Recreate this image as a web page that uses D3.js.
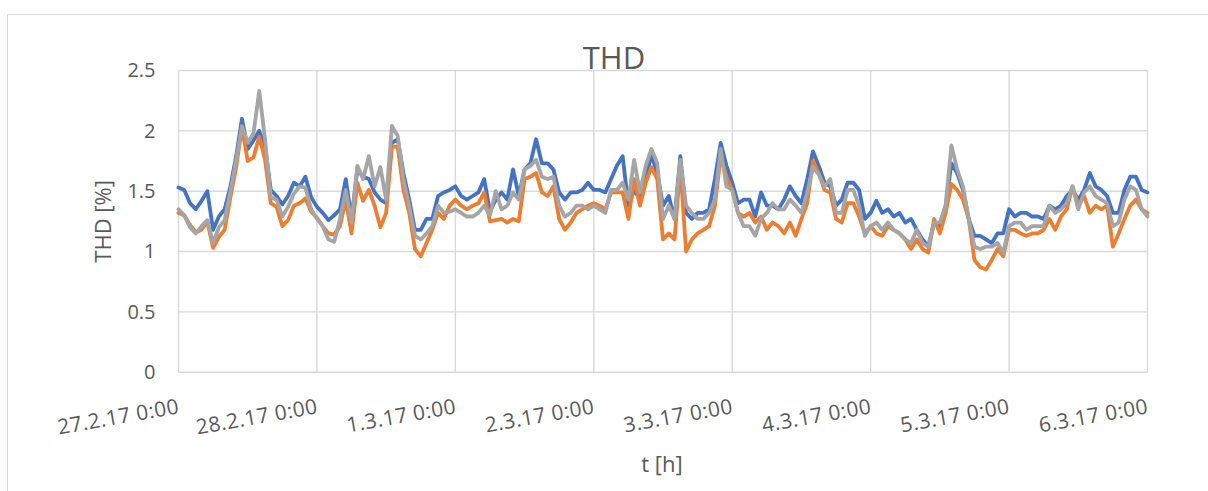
<!DOCTYPE html>
<html>
<head>
<meta charset="utf-8">
<script src="https://cdn.jsdelivr.net/npm/d3@7"></script>
<style>
  body { margin: 0; background: #fff; }
  text { font-family: "Open Sans", sans-serif; fill: #595959; }
</style>
</head>
<body>
<div id="chart"></div>
<script>
// hourly THD values [%], 27.2.17 0:00 .. 6.3.17 0:00 (one row per day)
var thdL1 = [
  1.53,1.51,1.40,1.35,1.42,1.50,1.18,1.29,1.35,1.54,1.79,2.10,1.85,1.92,2.00,1.87,1.51,1.46,1.39,1.46,1.57,1.54,1.62,1.45,
  1.37,1.32,1.26,1.30,1.35,1.60,1.27,1.68,1.62,1.60,1.49,1.43,1.40,1.90,1.93,1.65,1.43,1.18,1.18,1.27,1.27,1.46,1.49,1.51,
  1.54,1.46,1.43,1.46,1.49,1.60,1.33,1.43,1.49,1.43,1.68,1.46,1.68,1.73,1.93,1.73,1.73,1.68,1.49,1.43,1.49,1.49,1.51,1.57,
  1.51,1.51,1.49,1.60,1.71,1.79,1.38,1.51,1.43,1.60,1.80,1.65,1.38,1.46,1.27,1.79,1.32,1.27,1.32,1.32,1.35,1.60,1.90,1.71,
  1.57,1.40,1.43,1.43,1.29,1.49,1.38,1.38,1.35,1.43,1.54,1.46,1.40,1.60,1.83,1.71,1.57,1.54,1.38,1.43,1.57,1.57,1.51,1.27,
  1.32,1.42,1.32,1.35,1.29,1.32,1.24,1.27,1.18,1.10,1.04,1.24,1.21,1.38,1.73,1.65,1.51,1.27,1.13,1.13,1.10,1.07,1.15,1.15,
  1.35,1.29,1.32,1.32,1.29,1.29,1.27,1.38,1.35,1.38,1.46,1.51,1.43,1.51,1.65,1.54,1.51,1.46,1.32,1.32,1.51,1.62,1.62,1.51,
  1.49
];
var thdL2 = [
  1.32,1.30,1.22,1.16,1.18,1.25,1.03,1.12,1.18,1.45,1.70,2.03,1.75,1.78,1.95,1.76,1.40,1.37,1.21,1.26,1.38,1.40,1.44,1.33,
  1.28,1.21,1.15,1.14,1.21,1.43,1.15,1.57,1.42,1.51,1.38,1.20,1.32,1.87,1.87,1.51,1.32,1.02,0.96,1.07,1.18,1.32,1.27,1.38,
  1.43,1.38,1.35,1.38,1.40,1.49,1.25,1.26,1.27,1.24,1.27,1.25,1.60,1.62,1.65,1.49,1.46,1.54,1.27,1.18,1.24,1.32,1.35,1.38,
  1.40,1.38,1.35,1.49,1.49,1.49,1.27,1.60,1.38,1.57,1.70,1.60,1.10,1.15,1.10,1.71,1.00,1.10,1.15,1.18,1.21,1.38,1.79,1.62,
  1.51,1.32,1.29,1.32,1.24,1.29,1.18,1.24,1.21,1.15,1.24,1.13,1.27,1.40,1.75,1.65,1.51,1.49,1.27,1.24,1.40,1.40,1.29,1.15,
  1.21,1.15,1.13,1.21,1.18,1.15,1.10,1.02,1.10,1.02,0.99,1.27,1.15,1.32,1.56,1.51,1.43,1.27,0.93,0.87,0.85,0.93,1.02,0.96,
  1.18,1.18,1.15,1.13,1.15,1.15,1.18,1.27,1.18,1.29,1.35,1.54,1.38,1.46,1.32,1.38,1.35,1.38,1.04,1.15,1.27,1.38,1.43,1.35,
  1.32
];
var thdL3 = [
  1.35,1.30,1.20,1.15,1.21,1.26,1.07,1.20,1.26,1.50,1.76,2.04,1.90,1.98,2.33,1.93,1.45,1.43,1.29,1.37,1.48,1.54,1.53,1.35,
  1.27,1.21,1.10,1.08,1.27,1.51,1.24,1.71,1.60,1.79,1.54,1.70,1.43,2.04,1.96,1.60,1.38,1.13,1.10,1.15,1.21,1.38,1.32,1.33,
  1.35,1.32,1.29,1.29,1.32,1.38,1.30,1.50,1.35,1.38,1.49,1.43,1.68,1.71,1.76,1.62,1.60,1.62,1.38,1.29,1.32,1.38,1.38,1.35,
  1.38,1.35,1.32,1.51,1.51,1.57,1.43,1.76,1.49,1.71,1.85,1.73,1.27,1.38,1.27,1.76,1.38,1.32,1.27,1.27,1.32,1.43,1.85,1.54,
  1.51,1.32,1.21,1.21,1.13,1.27,1.32,1.40,1.35,1.35,1.43,1.38,1.32,1.49,1.70,1.64,1.54,1.60,1.32,1.32,1.51,1.51,1.38,1.13,
  1.21,1.24,1.18,1.24,1.18,1.15,1.10,1.07,1.18,1.07,1.04,1.24,1.24,1.38,1.88,1.68,1.54,1.27,1.04,1.02,1.04,1.04,1.07,0.99,
  1.21,1.24,1.24,1.18,1.21,1.21,1.21,1.38,1.32,1.35,1.40,1.54,1.35,1.49,1.54,1.46,1.43,1.40,1.21,1.24,1.43,1.54,1.51,1.35,
  1.29
];

var yTicks = [0, 0.5, 1, 1.5, 2, 2.5];
var dayTicks = ["2017-02-27","2017-02-28","2017-03-01","2017-03-02","2017-03-03","2017-03-04","2017-03-05","2017-03-06"];
var seriesColors = ["#4472C4", "#ED7D31", "#A5A5A5"];

var width = 1208, height = 491;
var margin = {top: 70.5, right: 60.5, bottom: 118.5, left: 178.5};

var start = Date.UTC(2017, 1, 27);
var hours = thdL1.map(function (d, i) { return new Date(start + i * 3600e3); });

var series = [thdL1, thdL2, thdL3].map(function (vals) {
    return vals.map(function (v, i) { return {t: hours[i], v: v}; });
});

var svg = d3.select("#chart").append("svg")
    .attr("width", width)
    .attr("height", height);

// outer chart frame (cropped at right/bottom)
svg.append("rect")
    .attr("x", 7.5).attr("y", 14.5)
    .attr("width", 1300).attr("height", 600)
    .attr("fill", "none")
    .attr("stroke", "#D9D9D9");

var x = d3.scaleUtc()
    .domain([new Date(dayTicks[0]), new Date(dayTicks[dayTicks.length - 1])])
    .range([margin.left, width - margin.right]);

var y = d3.scaleLinear()
    .domain([0, 2.5])
    .range([height - margin.bottom - 0.3, margin.top]);

var tickDates = dayTicks.map(function (d) { return new Date(d); });
var fmt = d3.utcFormat("%-d.%-m.%y %-H:%M");

/* grid */
var grid = svg.append("g").attr("class", "grid");
grid.selectAll("line.h")
    .data(yTicks)
    .enter().append("line")
    .attr("x1", x.range()[0]).attr("x2", x.range()[1])
    .attr("y1", function (d) { return y(d); })
    .attr("y2", function (d) { return y(d); })
    .attr("stroke", "#D9D9D9")
    .attr("stroke-width", 1.4);

grid.selectAll("line.v")
    .data(tickDates)
    .enter().append("line")
    .attr("x1", function (d) { return x(d); })
    .attr("x2", function (d) { return x(d); })
    .attr("y1", y(0)).attr("y2", y(2.5))
    .attr("stroke", "#D9D9D9")
    .attr("stroke-width", 1.4);

/* axes */
var yAxis = d3.axisLeft(y)
    .tickValues(yTicks)
    .tickSize(0)
    .tickPadding(23)
    .tickFormat(function (d) { return String(d); });

svg.append("g")
    .attr("transform", "translate(" + margin.left + ",0)")
    .call(yAxis)
    .call(function (g) { g.select(".domain").remove(); })
    .selectAll("text")
    .style("font-family", "'Open Sans', sans-serif")
    .style("font-size", "20px")
    .attr("fill", "#595959");

var xAxis = d3.axisBottom(x)
    .tickValues(tickDates)
    .tickSize(0)
    .tickFormat(fmt);

svg.append("g")
    .attr("transform", "translate(0," + y(0) + ")")
    .call(xAxis)
    .call(function (g) { g.select(".domain").remove(); })
    .selectAll("text")
    .style("font-family", "'Open Sans', sans-serif")
    .style("font-size", "21px")
    .style("letter-spacing", "0.4px")
    .attr("fill", "#595959")
    .attr("text-anchor", "end")
    .attr("dy", null)
    .attr("y", 0)
    .attr("transform", "translate(1,41) rotate(-10)");

/* lines */
var line = d3.line()
    .x(function (d) { return x(d.t); })
    .y(function (d) { return y(d.v); });

svg.append("g")
    .selectAll("path")
    .data(series)
    .enter().append("path")
    .attr("d", line)
    .attr("fill", "none")
    .attr("stroke", function (d, i) { return seriesColors[i]; })
    .attr("stroke-width", 3.8)
    .attr("stroke-linejoin", "round")
    .attr("stroke-linecap", "round");

/* titles */
svg.append("text")
    .attr("x", 614).attr("y", 69)
    .attr("text-anchor", "middle")
    .style("font-size", "31px")
    .text("THD");

svg.append("text")
    .attr("transform", "translate(111," + (y(1.25)) + ") rotate(-90)")
    .attr("text-anchor", "middle")
    .style("font-size", "22px")
    .text("THD [%]");

svg.append("text")
    .attr("x", 662).attr("y", 472)
    .attr("text-anchor", "middle")
    .style("font-size", "22px")
    .text("t [h]");
</script>
</body>
</html>
